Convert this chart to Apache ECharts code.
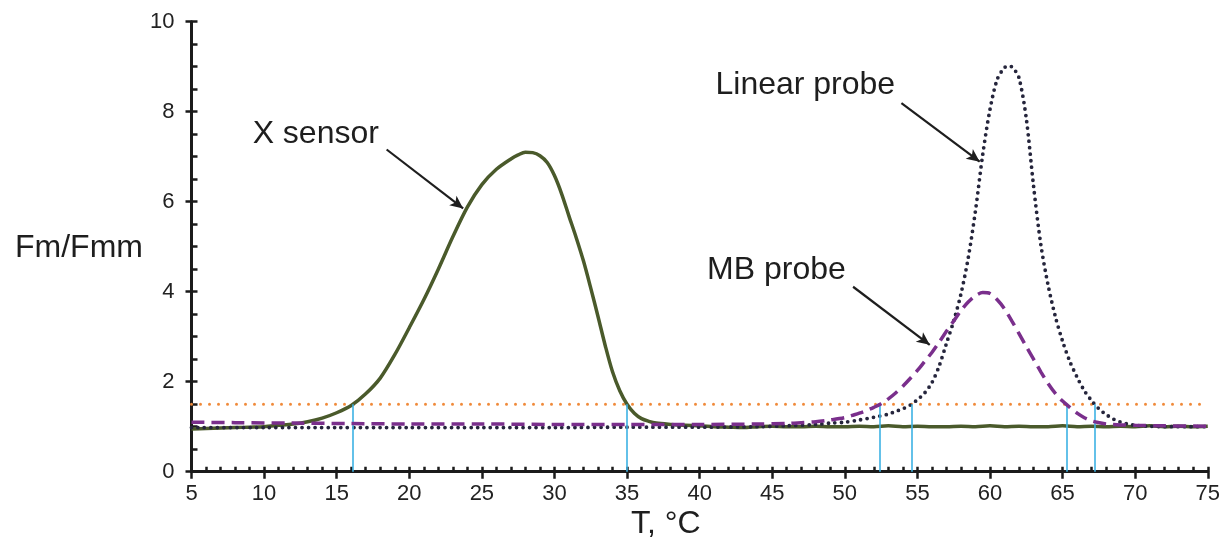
<!DOCTYPE html>
<html><head><meta charset="utf-8">
<script src="https://cdn.jsdelivr.net/npm/echarts@6/dist/echarts.min.js"></script>
<style>html,body{margin:0;padding:0;background:#fff}#c{width:1223px;height:543px}</style>
</head><body><div id="c"></div>
<script>
// X sensor curve: [T, Fm/Fmm]
const sensorData = [
 [5,0.95],[6,0.96],[7,0.97],[8,0.98],[9,0.99],[10,1.0],[11,1.03],[12,1.06],[13,1.11],[14,1.19],
 [15,1.31],[16,1.47],[17,1.73],[18,2.08],[19,2.6],[20,3.2],[21,3.82],[22,4.5],[23,5.22],[24,5.88],
 [25,6.38],[26,6.72],[27,6.95],[27.5,7.04],[28,7.1],[28.5,7.09],[29,7.02],[29.5,6.87],[30,6.58],[30.5,6.17],
 [31,5.68],[31.5,5.2],[32,4.68],[32.5,4.08],[33,3.45],[33.5,2.8],[34,2.22],[34.5,1.8],[35,1.5],[35.5,1.3],
 [36,1.18],[36.5,1.12],[37,1.08],[38,1.05],[39,1.03],[40,1.02],[41,1.0],[42,0.99],[43,0.98],[44,1.0],
 [45,1.01],[46,1.0],[47,1.0],[48,1.01],[49,1.0],[50,1.0],[51,1.01],[52,1.0],[53,1.02],[54,1.0],
 [55,1.01],[56,1.0],[57,1.0],[58,1.01],[59,1.0],[60,1.02],[61,1.0],[62,1.01],[63,1.0],[64,1.0],
 [65,1.02],[66,1.0],[67,1.01],[68,1.0],[69,1.01],[70,1.0],[71,1.02],[72,1.0],[73,1.01],[74,1.0],[75,1.01]
];
// Linear probe curve
const linearData = [
 [5,0.98],[10,0.98],[15,0.98],[20,0.98],[25,0.98],[30,0.98],[35,0.99],[40,0.99],[44,1.0],[46,1.02],
 [48,1.05],[49,1.08],[50,1.1],[51,1.15],[52,1.21],[53,1.28],[53.5,1.34],[54,1.4],[54.5,1.48],[55,1.6],
 [55.5,1.75],[56,1.98],[56.5,2.35],[57,2.85],[57.5,3.35],[58,3.95],[58.5,4.75],[59,5.8],[59.5,7.05],[60,8.05],
 [60.5,8.72],[61,8.98],[61.3,9.02],[61.6,8.97],[62,8.75],[62.5,7.85],[63,6.35],[63.5,5.05],[64,4.15],[64.5,3.45],
 [65,2.9],[65.5,2.45],[66,2.1],[66.5,1.8],[67,1.58],[67.5,1.4],[68,1.27],[68.5,1.17],[69,1.1],[69.5,1.06],
 [70,1.03],[71,1.01],[72,1.0],[75,1.0]
];
// MB probe curve
const mbData = [
 [5,1.1],[8,1.09],[12,1.08],[16,1.07],[20,1.06],[25,1.06],[30,1.05],[35,1.05],[40,1.05],[44,1.06],
 [46,1.07],[47,1.09],[48,1.11],[49,1.15],[50,1.2],[50.5,1.25],[51,1.3],[51.5,1.36],[52,1.43],[52.5,1.51],
 [53,1.62],[53.5,1.75],[54,1.9],[54.5,2.07],[55,2.25],[55.5,2.45],[56,2.65],[56.5,2.88],[57,3.12],[57.5,3.35],
 [58,3.58],[58.5,3.77],[59,3.91],[59.5,3.98],[60,3.96],[60.5,3.82],[61,3.62],[61.5,3.35],[62,3.07],[62.5,2.78],
 [63,2.5],[63.5,2.22],[64,1.96],[64.5,1.74],[65,1.57],[65.5,1.43],[66,1.3],[66.5,1.2],[67,1.13],[67.5,1.09],
 [68,1.06],[69,1.04],[70,1.03],[72,1.02],[75,1.01]
];
const threshold = 1.5;
const crossings = [16.1, 35, 52.4, 54.6, 65.3, 67.2];
const xTicks = [5,10,15,20,25,30,35,40,45,50,55,60,65,70,75];
const yTicks = [0,2,4,6,8,10];
// annotations: text, text position, arrow start, arrow end (data coords)
const annoText = ['X sensor', 'Linear probe', 'MB probe'];
const annoPos = [[13.56,7.5],[47.28,8.59],[45.29,4.48]];
const arrowFrom = [[18.44,7.16],[53.9,8.19],[50.57,4.11]];
const arrowTo = [[23.71,5.85],[59.29,6.89],[55.85,2.82]];

const FONT = '"Liberation Sans", Arial, sans-serif';
const INK = '#1b1b1b';
const chart = echarts.init(document.getElementById('c'), null, {renderer:'canvas'});
const xMin = xTicks[0], xMax = xTicks[xTicks.length-1];
const yMin = yTicks[0], yMax = yTicks[yTicks.length-1];

chart.setOption({
  animation: false,
  backgroundColor: '#fff',
  grid: {left: 191.5, right: 14.7, top: 21.7, bottom: 71.3, containLabel: false},
  xAxis: [
    {type:'value', min:xMin, max:xMax, interval:5, position:'bottom',
     axisLine:{show:true, lineStyle:{color:INK, width:3}},
     axisTick:{show:true, inside:false, length:7, lineStyle:{color:INK, width:2.5}},
     axisLabel:{fontFamily:FONT, fontSize:22, color:'#222', margin:11},
     splitLine:{show:false}},
    {type:'value', min:xMin, max:xMax, interval:1, position:'bottom',
     axisLine:{show:false},
     axisTick:{show:true, inside:true, length:5, lineStyle:{color:INK, width:2.5}},
     axisLabel:{show:false}, splitLine:{show:false}}
  ],
  yAxis: [
    {type:'value', min:yMin, max:yMax, interval:2, position:'left',
     axisLine:{show:true, lineStyle:{color:INK, width:3}},
     axisTick:{show:true, inside:false, length:6, lineStyle:{color:INK, width:2.5}},
     axisLabel:{fontFamily:FONT, fontSize:22, color:'#222', margin:17},
     splitLine:{show:false}},
    {type:'value', min:yMin, max:yMax, interval:0.5, position:'left',
     axisLine:{show:false},
     axisTick:{show:true, inside:true, length:6, lineStyle:{color:INK, width:2.5}},
     axisLabel:{show:false}, splitLine:{show:false}}
  ],
  graphic: [
    {type:'text', left:15, top:232, style:{text:'Fm/Fmm', font:'32px ' + FONT, fill:'#1e1e1e'}},
    {type:'text', left:631, top:508, style:{text:'T, \u00B0C', font:'32px ' + FONT, fill:'#1e1e1e'}}
  ],
  series: [
    {type:'line', name:'threshold', data:[[xMin,threshold],[xMax,threshold]], symbol:'none', silent:true,
     lineStyle:{color:'#f08a3a', width:3, type:[0,9], cap:'round'}, z:1,
     markLine:{silent:true, symbol:['none','none'], label:{show:false},
       lineStyle:{color:'#3db2e4', width:1.6, type:'solid'},
       data: crossings.map(t => [{coord:[t,0]},{coord:[t,threshold]}])}},
    {type:'line', name:'X sensor', data:sensorData, symbol:'none', smooth:0.3, z:3,
     lineStyle:{color:'#4a5a2b', width:3.5}},
    {type:'line', name:'Linear probe', data:linearData, symbol:'none', smooth:0.3, z:4,
     lineStyle:{color:'#25253c', width:3.8, type:[0,6.5], cap:'round'}},
    {type:'line', name:'MB probe', data:mbData, symbol:'none', smooth:0.3, z:5,
     lineStyle:{color:'#7a2f8c', width:3.5, type:[13,7]}},
    {type:'line', name:'annotations', data:[], symbol:'none', z:6, silent:true,
     markLine:{silent:true, symbol:['none','arrow'], symbolSize:[9,13], label:{show:false},
       lineStyle:{color:'#1e1e1e', width:2.2, type:'solid'},
       data: arrowFrom.map((p,i) => [{coord:p},{coord:arrowTo[i]}])},
     markPoint:{silent:true, symbol:'circle', symbolSize:0,
       label:{show:true, position:'inside', fontFamily:FONT, fontSize:32, color:'#1e1e1e',
              formatter: p => p.name},
       data: annoText.map((t,i) => ({name:t, coord:annoPos[i]}))}}
  ]
});
</script></body></html>
